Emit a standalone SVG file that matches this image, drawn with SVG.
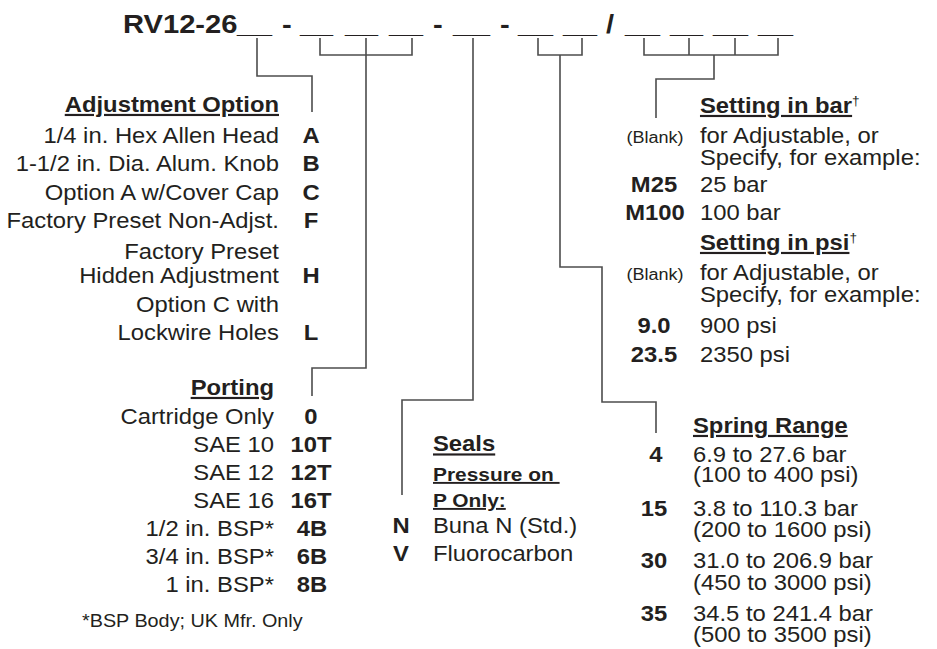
<svg xmlns="http://www.w3.org/2000/svg" width="937" height="649" viewBox="0 0 937 649">
<style>
text{font-family:"Liberation Sans",Arial,sans-serif;fill:#231f20;font-size:21.65px}
.b{font-weight:bold}
.t{font-weight:bold;font-size:26.5px}
.h{font-weight:bold;text-decoration:underline}
.e{text-anchor:end}
.m{text-anchor:middle}
.s{font-size:16.4px}
.f{font-size:18px}
.p{font-size:19px}
.sup{font-size:12.4px}
.c{fill:none;stroke:#4d4d4d;stroke-width:1.6}
</style>
<rect width="937" height="649" fill="#fff"/>
<g id="title" transform="scale(1.1 1)">
<text class="t" x="111.82" y="33">RV12-26</text>
<text class="t" x="215.45" y="33" textLength="31.82" lengthAdjust="spacingAndGlyphs">__</text>
<text class="t" x="256.36" y="33">-</text>
<text class="t" x="272.73" y="33" textLength="30" lengthAdjust="spacingAndGlyphs">__</text>
<text class="t" x="313.64" y="33" textLength="30" lengthAdjust="spacingAndGlyphs">__</text>
<text class="t" x="353.64" y="33" textLength="30.91" lengthAdjust="spacingAndGlyphs">__</text>
<text class="t" x="393.64" y="33">-</text>
<text class="t" x="411.82" y="33" textLength="33.64" lengthAdjust="spacingAndGlyphs">__</text>
<text class="t" x="454.55" y="33">-</text>
<text class="t" x="470.91" y="33" textLength="31.82" lengthAdjust="spacingAndGlyphs">__</text>
<text class="t" x="511.82" y="33" textLength="30.91" lengthAdjust="spacingAndGlyphs">__</text>
<text class="t" x="550.91" y="33">/</text>
<text class="t" x="568.18" y="33" textLength="31.82" lengthAdjust="spacingAndGlyphs">__</text>
<text class="t" x="609.09" y="33" textLength="30" lengthAdjust="spacingAndGlyphs">__</text>
<text class="t" x="648.18" y="33" textLength="31.82" lengthAdjust="spacingAndGlyphs">__</text>
<text class="t" x="689.09" y="33" textLength="31.82" lengthAdjust="spacingAndGlyphs">__</text>
</g>
<g id="connectors" class="c">
<path d="M257,38V76H312V112"/>
<path d="M320,38V55H412V38M366,38V368H312V396"/>
<path d="M473,38V400H402V495"/>
<path d="M538,38V55H582V38M560,55V267H602V402H656V433"/>
<path d="M644,38V55H778V38M689,38V55M735,38V55M714,55V79H656V118"/>
</g>
<g id="adjustment" transform="scale(1.1 1)">
<text class="h e" x="253.64" y="112">Adjustment Option</text>
<text class="e" x="253.64" y="143">1/4 in. Hex Allen Head</text>
<text class="e" x="253.64" y="171.5">1-1/2 in. Dia. Alum. Knob</text>
<text class="e" x="253.64" y="200">Option A w/Cover Cap</text>
<text class="e" x="253.64" y="228.5">Factory Preset Non-Adjst.</text>
<text class="e" x="253.64" y="259.5">Factory Preset</text>
<text class="e" x="253.64" y="283.5">Hidden Adjustment</text>
<text class="e" x="253.64" y="312">Option C with</text>
<text class="e" x="253.64" y="340">Lockwire Holes</text>
<text class="b m" x="282.73" y="143">A</text>
<text class="b m" x="282.73" y="171.5">B</text>
<text class="b m" x="282.73" y="200">C</text>
<text class="b m" x="282.73" y="228.5">F</text>
<text class="b m" x="282.73" y="283.5">H</text>
<text class="b m" x="282.73" y="340">L</text>
</g>
<g id="porting" transform="scale(1.1 1)">
<text class="h e" x="249.09" y="395">Porting</text>
<text class="e" x="249.09" y="424">Cartridge Only</text>
<text class="e" x="249.09" y="452">SAE 10</text>
<text class="e" x="249.09" y="480">SAE 12</text>
<text class="e" x="249.09" y="508">SAE 16</text>
<text class="e" x="249.09" y="536">1/2 in. BSP*</text>
<text class="e" x="249.09" y="564">3/4 in. BSP*</text>
<text class="e" x="249.09" y="592">1 in. BSP*</text>
<text class="b m" x="282.73" y="424">0</text>
<text class="b m" x="282.73" y="452">10T</text>
<text class="b m" x="282.73" y="480">12T</text>
<text class="b m" x="282.73" y="508">16T</text>
<text class="b m" x="283.64" y="536">4B</text>
<text class="b m" x="283.64" y="564">6B</text>
<text class="b m" x="283.64" y="592">8B</text>
<text class="f" x="74.55" y="627">*BSP Body; UK Mfr. Only</text>
</g>
<g id="seals" transform="scale(1.1 1)">
<text class="h" x="393.64" y="451.5">Seals</text>
<text class="h p" x="393.64" y="481" xml:space="preserve">Pressure on </text>
<text class="h p" x="393.64" y="507">P Only:</text>
<text class="b m" x="364.55" y="533">N</text>
<text x="393.64" y="533">Buna N (Std.)</text>
<text class="b m" x="364.55" y="561.5">V</text>
<text x="393.64" y="561.5">Fluorocarbon</text>
</g>
<g id="setting-bar" transform="scale(1.1 1)">
<text x="636.36" y="113"><tspan class="h">Setting in bar</tspan><tspan class="sup" dy="-8">†</tspan></text>
<text class="s m" x="595.45" y="143">(Blank)</text>
<text x="636.36" y="143">for Adjustable, or</text>
<text x="636.36" y="165">Specify, for example:</text>
<text class="b m" x="594.55" y="192">M25</text>
<text x="636.36" y="192">25 bar</text>
<text class="b m" x="595.45" y="220">M100</text>
<text x="636.36" y="220">100 bar</text>
</g>
<g id="setting-psi" transform="scale(1.1 1)">
<text x="636.36" y="250"><tspan class="h">Setting in psi</tspan><tspan class="sup" dy="-8">†</tspan></text>
<text class="s m" x="595.45" y="280">(Blank)</text>
<text x="636.36" y="280">for Adjustable, or</text>
<text x="636.36" y="302">Specify, for example:</text>
<text class="b m" x="594.55" y="333">9.0</text>
<text x="636.36" y="333">900 psi</text>
<text class="b m" x="594.55" y="362">23.5</text>
<text x="636.36" y="362">2350 psi</text>
</g>
<g id="spring-range" transform="scale(1.1 1)">
<text class="h" x="630" y="433">Spring Range</text>
<text class="b m" x="596.36" y="462.5">4</text>
<text x="630" y="462.5">6.9 to 27.6 bar</text>
<text x="630" y="482.5">(100 to 400 psi)</text>
<text class="b m" x="594.55" y="516">15</text>
<text x="630" y="516">3.8 to 110.3 bar</text>
<text x="630" y="537">(200 to 1600 psi)</text>
<text class="b m" x="594.55" y="568.5">30</text>
<text x="630" y="568.5">31.0 to 206.9 bar</text>
<text x="630" y="590">(450 to 3000 psi)</text>
<text class="b m" x="594.55" y="621">35</text>
<text x="630" y="621">34.5 to 241.4 bar</text>
<text x="630" y="642">(500 to 3500 psi)</text>
</g>
</svg>
